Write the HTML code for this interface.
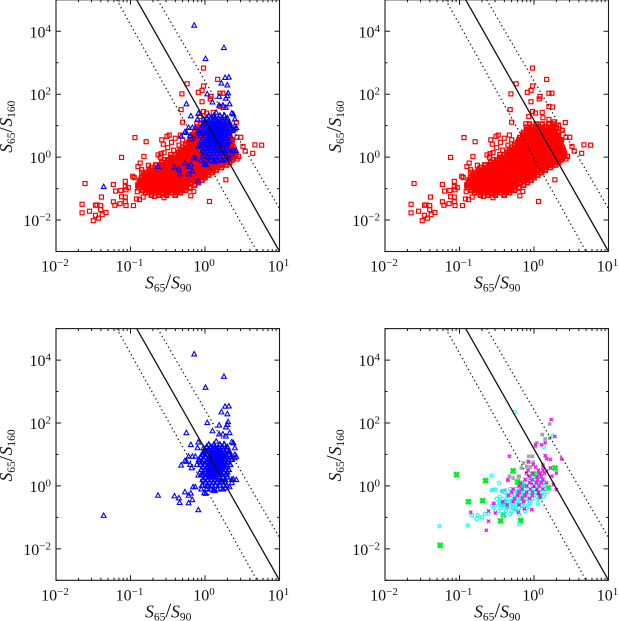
<!DOCTYPE html>
<html>
<head>
<meta charset="utf-8">
<title>S65/S160 vs S65/S90 colour-colour diagrams</title>
<style>
html,body{margin:0;padding:0;background:#fff;}
#chart{display:block;width:619px;height:621px;filter:blur(0.3px);}
text{font-family:"Liberation Serif",serif;fill:#111;}
</style>
</head>
<body>
<svg id="chart" xmlns="http://www.w3.org/2000/svg" width="619" height="621" viewBox="0 0 619 621"></svg>
<script>
/* All data values are log10(S65/S90), log10(S65/S160). */
const xTickExponents = [-2, -1, 0, 1];
const yTickExponents = [-2, 0, 2, 4];
const yDecades = [-3, -2, -1, 0, 1, 2, 3, 4, 5];
const xMinorFactors = [2, 3, 4, 5, 6, 7, 8, 9];
const solidLine = [[-0.917, 5], [1, -3]];
const upperDottedLine = [[-0.635, 5], [1, -1.64]];
const lowerDottedLine = [[-1.185, 5], [0.698, -3]];

const redOutliers = [[-1.61,-.84],[-1.65,-1.5],[-1.65,-1.77],[-1.55,-1.72],[-1.5,-2.02],[-1.47,-1.53],[-1.45,-1.52],[-1.47,-1.85],[-1.43,-1.94],[-1.4,-1.54],[-1.4,-1.67],[-1.33,-1.76],[-1.38,-1.83],[-1.39,-1.27],[-1.23,-.87],[-1.2,-1.08],[-1.13,-1.06],[-1.23,-1.42],[-1.21,-1.53],[-1.14,-1.48],[-1.06,-1.54],[-.96,-1.54],[-1.07,-1.42],[-1.07,-.77],[-1.07,-.93],[-1.12,-1.26],[-1.07,-1.27],[-1.03,-.97],[-1.06,-1.04],[-.9,-.96],[-.91,-1.1],[-1.12,-.01],[-.94,.62],[-.79,.49],[-.82,.02],[-.87,-.19],[-.9,-.3],[-.85,-.4],[-.85,-.48],[-.97,-.61],[-.95,-.65],[-.76,-.26],[-.92,-1.33],[-.88,-1.35],[-.83,-1.27],[-.63,.07],[-.59,.11],[-.58,.55],[-.51,.66],[-.56,.41],[.06,-1.41],[.28,-.72],[-.19,-1.23],[-.2,-.99],[-.15,-1.09],[-.55,-1.29],[-.68,-1.25],[-.02,2.83],[-.24,2.33],[.17,2.47],[-.31,2.01],[-.02,2.26],[-.04,2.12],[-.09,2.06],[.2,2.03],[.24,2.03],[.08,1.93],[.07,1.85],[-.04,1.76],[-.32,1.51],[-.3,1.11],[.2,1.61],[.25,1.59],[-.02,1.45],[.02,1.4],[.11,1.42],[-.07,1.29],[-.11,1.06],[.42,1.1],[.67,.39],[.76,.38],[.64,.12],[.54,.19],[.51,.34],[.48,.63],[.43,.63],[.37,.55],[.45,.02],[.43,-.06],[.41,.11],[.2,1.2],[.12,1.25],[.27,1.12],[.33,1.02],[.38,.85],[-.48,.7],[-.33,.7],[-.4,.6],[-.3,.55],[-.45,.47],[-.35,.38],[-.5,.3],[-.42,.22],[-.55,.14],[-.46,.08],[-.6,.0],[-.54,-.08]];

const redCloudRows = [
[1.05,[-.06,.03,.11,.2,.27]],
[.95,[-.1,-.03,.04,.1,.16,.23,.3]],
[.87,[-.1,-.05,0,.05,.1,.15,.2,.26]],
[.78,[-.14,-.1,-.04,.02,.07,.12,.17,.22,.28,.33]],
[.7,[-.15,-.1,-.05,0,.05,.1,.15,.2,.25,.31]],
[.62,[-.19,-.14,-.09,-.04,.01,.06,.11,.16,.21,.26,.33]],
[.55,[-.2,-.16,-.12,-.07,-.02,.03,.08,.13,.18,.23,.28,.35]],
[.47,[-.22,-.2,-.15,-.1,-.05,0,.05,.1,.15,.2,.25,.3,.36]],
[.39,[-.26,-.2,-.15,-.1,-.05,0,.05,.1,.15,.2,.25,.3,.35]],
[.31,[-.3,-.24,-.19,-.14,-.09,-.04,.01,.06,.11,.16,.21,.26,.31,.38]],
[.23,[-.33,-.27,-.22,-.17,-.12,-.07,-.02,.03,.08,.13,.18,.23,.28,.33,.39]],
[.15,[-.36,-.31,-.26,-.21,-.16,-.11,-.06,-.01,.04,.09,.14,.19,.24,.29,.34,.4]],
[.07,[-.4,-.35,-.3,-.25,-.2,-.15,-.1,-.05,0,.05,.1,.15,.2,.25,.3,.36,.41]],
[-.01,[-.46,-.41,-.35,-.3,-.25,-.2,-.15,-.1,-.05,0,.05,.1,.15,.2,.25,.3,.38]],
[-.09,[-.5,-.44,-.39,-.34,-.29,-.24,-.19,-.14,-.09,-.04,.01,.06,.11,.16,.21,.26,.31,.36]],
[-.17,[-.58,-.52,-.47,-.42,-.37,-.32,-.27,-.22,-.17,-.12,-.07,-.02,.03,.08,.13,.18,.23,.28,.33]],
[-.25,[-.66,-.6,-.56,-.51,-.46,-.41,-.36,-.31,-.26,-.21,-.16,-.11,-.06,-.01,.04,.09,.14,.19,.24,.29]],
[-.33,[-.72,-.65,-.6,-.55,-.5,-.45,-.4,-.35,-.3,-.25,-.2,-.15,-.1,-.05,0,.05,.1,.15,.22]],
[-.41,[-.75,-.69,-.64,-.59,-.54,-.49,-.44,-.39,-.34,-.29,-.24,-.19,-.14,-.09,-.04,.01,.06,.11,.15]],
[-.49,[-.78,-.72,-.67,-.62,-.57,-.52,-.47,-.42,-.37,-.32,-.27,-.22,-.17,-.12,-.07,-.02,.03,.1]],
[-.57,[-.82,-.76,-.7,-.65,-.6,-.55,-.5,-.45,-.4,-.35,-.3,-.25,-.2,-.15,-.1,-.05,0,.05]],
[-.65,[-.85,-.79,-.73,-.68,-.63,-.58,-.53,-.48,-.43,-.38,-.33,-.28,-.23,-.18,-.13,-.08,-.03,0]],
[-.73,[-.87,-.81,-.76,-.71,-.66,-.61,-.56,-.51,-.46,-.41,-.36,-.31,-.26,-.21,-.16,-.11,-.04]],
[-.81,[-.88,-.83,-.78,-.73,-.68,-.63,-.58,-.53,-.48,-.43,-.38,-.33,-.28,-.23,-.18,-.09]],
[-.89,[-.9,-.85,-.8,-.75,-.7,-.65,-.6,-.55,-.5,-.45,-.4,-.35,-.3,-.25,-.14]],
[-.97,[-.88,-.83,-.78,-.73,-.68,-.63,-.58,-.53,-.48,-.43,-.38,-.33,-.27,-.2]],
[-1.05,[-.84,-.78,-.72,-.66,-.6,-.54,-.48,-.42,-.36,-.3,-.26]],
[-1.13,[-.8,-.72,-.65,-.58,-.51,-.44,-.37,-.33]],
[-1.21,[-.72,-.62,-.52,-.4]]
];

const blueOutliers = [[-.145,4.19],[.254,3.48],[.007,3.13],[.27,2.53],[.32,2.54],[.22,2.35],[.3,2.29],[.03,2.01],[.31,2.04],[.19,1.93],[.3,1.95],[.28,1.87],[.1,1.75],[-.25,1.69],[.33,1.69],[-.19,1.31],[-.09,1.39],[.19,1.65],[.24,1.65],[.28,1.58],[.15,1.42],[.36,1.4],[.38,1.37],[.4,1.21],[-.1,1.21],[-.02,1.21],[-.22,.94],[-.17,.94],[-.27,.8],[-.25,.78],[-.13,.94],[-.32,.66],[-.2,.68],[-.18,.57],[-.11,.68],[-.07,.78],[-.02,1],[.4,1],[.4,.89],[.42,.94],[-.63,-.3],[-.41,-.32],[-.35,-.38],[-.34,-.53],[-.27,-.19],[-.22,-.3],[-.19,-.23],[-.17,-.44],[-.22,-.54],[-.09,-.76],[-1.36,-.94],[-.16,-.03],[-.13,-.03],[-.05,-.1],[-.01,-.22],[.01,-.24],[.11,-.14],[.13,-.15],[.04,-.01],[.27,-.06],[.33,-.03],[-.09,.34],[-.05,.36],[-.02,.2],[.38,.22],[.42,.2],[.36,.1]];

const blueCloudRows = [
[1.32,[.05,.12,.2,.26]],
[1.24,[.02,.08,.13,.18,.23,.3]],
[1.16,[0,.05,.09,.13,.17,.21,.25,.29]],
[1.08,[-.02,.04,.08,.11,.14,.17,.2,.23,.27,.33]],
[1.0,[-.04,.03,.07,.1,.13,.16,.19,.22,.25,.28,.32]],
[.92,[-.06,.01,.05,.08,.11,.14,.17,.2,.23,.26,.29,.35]],
[.84,[-.08,-.02,.03,.06,.09,.12,.15,.18,.21,.24,.27,.31,.36]],
[.76,[-.04,.02,.05,.08,.11,.14,.17,.2,.23,.26,.3]],
[.68,[-.06,0,.04,.07,.1,.13,.16,.19,.22,.25,.29,.34]],
[.6,[-.03,.03,.06,.09,.12,.15,.18,.21,.24,.28]],
[.52,[-.05,.01,.05,.08,.11,.14,.17,.2,.23,.27,.32]],
[.44,[.02,.05,.08,.11,.14,.17,.2,.25,.3]],
[.36,[-.03,.03,.06,.09,.12,.16,.2,.23,.29]],
[.28,[.01,.05,.08,.12,.15,.19,.24,.3]],
[.2,[-.03,.04,.08,.13,.17,.21,.27,.36]],
[.12,[.01,.06,.11,.16,.21,.27]],
[.02,[-.04,.03,.09,.14,.2,.29]],
[-.1,[.02,.08,.17,.24]]
];

const grayPoints = [[.21,1.97],[.11,1.63],[.15,1.49],[.21,1.52],[.02,1.25],[.04,1.37],[-.07,.94],[-.02,.94],[-.08,.78],[-.14,.73],[-.1,.62],[-.05,.6],[-.17,.57],[-.01,.75],[.12,.68],[-.33,.31],[-.28,.25],[-.21,.29],[-.2,.31],[-.35,.17],[-.43,-.17],[-.39,-.14],[-.23,-.17],[-.18,-.22],[-.35,-.68],[-.26,-.75],[-.12,0],[.06,.1]];

const cyanOutliers = [[-.26,2.35],[-1.27,-1.28],[-.89,-1.25],[-.57,.33],[-.2,-1.21],[-.47,.1],[-.57,-.14],[-.55,-.12],[-.52,-.11],[.25,1.6],[.13,1.24],[-.83,-.93],[-.77,-1.05],[-.76,-.93],[-.7,-.99],[-.66,-.89],[-.61,-.88],[-.43,-.16]];

const cyanCloudRows = [
[.3,[-.05,.05]],
[.2,[-.1,0,.08]],
[.1,[-.14,-.04,.04,.12]],
[0,[-.2,-.1,-.02,.06,.14]],
[-.1,[-.32,-.24,-.16,-.08,0,.08,.15]],
[-.2,[-.4,-.3,-.22,-.14,-.06,.02,.1,.17]],
[-.27,[-.36,-.26,-.18,-.1,-.02,.06,.14]],
[-.34,[-.46,-.36,-.28,-.2,-.12,-.04,.04,.12]],
[-.41,[-.5,-.42,-.34,-.26,-.18,-.1,-.02,.06]],
[-.48,[-.46,-.38,-.3,-.22,-.14,-.06]],
[-.55,[-.54,-.46,-.38,-.3,-.22,-.14,-.06,.05]],
[-.62,[-.56,-.48,-.4,-.32,-.24,-.16,-.08]],
[-.7,[-.54,-.44,-.36,-.28,-.2,-.1]],
[-.8,[-.48,-.38,-.3,-.22,-.12]],
[-.9,[-.42,-.32,-.2]]
];

const magentaOutliers = [[.23,2.11],[.28,1.57],[.15,1.37],[.02,1.31],[.1,1.31],[.37,.86],[.15,.96],[.17,.86],[.22,.84],[-.33,.94],[-.85,-.84],[-.64,-1.41],[-.61,-1.12],[-.54,-.56],[-.52,-.86],[-.61,-.8],[-.03,-.75],[-.13,-.73],[-.21,-.84],[-.35,.2],[.3,-.12],[.26,.04],[.24,.31],[.3,.41],[.17,.47],[.22,.57],[-.07,.76],[-.01,.68]];

const magentaCloudRows = [
[.6,[.02,.12]],
[.5,[-.08,.06,.12]],
[.4,[-.1,-.02,.08,.14]],
[.3,[-.06,.04,.1]],
[.2,[-.12,-.02,.05,.12]],
[.1,[-.18,-.06,.03,.1,.17]],
[0,[-.2,-.1,0,.07]],
[-.1,[-.28,-.16,-.05,.04,.12]],
[-.2,[-.3,-.2,-.1,-.02,.06]],
[-.3,[-.34,-.22,-.12,-.02,.08]],
[-.4,[-.26,-.16,-.06]],
[-.5,[-.42,-.28,-.14]],
[-.6,[-.36,-.2]]
];

const greenPoints = [[-1.04,.36],[-.65,.17],[-.88,-.5],[-.69,-.47],[-1.26,-1.89],[-.4,-.55],[-.41,-.91],[-.45,-1.11],[-.18,-1.1],[-.28,.48],[-.22,.13],[-.17,.04],[-.01,.38],[.07,.36],[.28,.57],[.19,-.06],[.08,-.33],[-.13,-.3],[-.17,-.08]];

const NS = 'http://www.w3.org/2000/svg';
const svg = document.getElementById('chart');
const X_MIN = -2, X_MAX = 1, Y_MIN = -3, Y_MAX = 5;
const AXIS = '#1a1a1a';

function mk(tag, attrs, parent) {
  const el = document.createElementNS(NS, tag);
  for (const k in attrs) el.setAttribute(k, attrs[k]);
  parent.appendChild(el);
  return el;
}
function expand(rows) {
  const out = [];
  rows.forEach(function (r) { r[1].forEach(function (x) { out.push([x, r[0]]); }); });
  return out;
}
const redCloud = expand(redCloudRows);
const blueCloud = expand(blueCloudRows);
const cyanAll = expand(cyanCloudRows).concat(cyanOutliers);
const magentaAll = expand(magentaCloudRows).concat(magentaOutliers);

function drawSquare(g, p, sx, sy, sw) {
  const r = mk('rect', {x: sx(p[0]) - 2, y: sy(p[1]) - 2, width: 4, height: 4, fill: 'none', stroke: '#ff0000', 'stroke-width': sw}, g);
  
  
}
function drawTriangle(g, p, sx, sy, sw) {
  const x = sx(p[0]), y = sy(p[1]);
  const t = mk('polygon', {points: (x - 2.4) + ',' + (y + 1.9) + ' ' + (x + 2.4) + ',' + (y + 1.9) + ' ' + x + ',' + (y - 2.5), fill: 'none', stroke: '#0000ff', 'stroke-width': sw}, g);
  
  
}
function drawGray(g, p, sx, sy) {
  const r = mk('rect', {x: sx(p[0]) - 1.8, y: sy(p[1]) - 1.8, width: 3.6, height: 3.6, fill: '#a4a4a4'}, g);
  
  
}
function drawCyan(g, p, sx, sy) {
  const c = mk('circle', {cx: sx(p[0]), cy: sy(p[1]), r: 1.6, fill: 'none', stroke: '#11ffff', 'stroke-width': 1.1}, g);
  
  
}
function drawCross(g, p, sx, sy, half, color, width, name) {
  const x = sx(p[0]), y = sy(p[1]);
  const d = 'M' + (x - half) + ' ' + (y - half) + 'L' + (x + half) + ' ' + (y + half) + 'M' + (x - half) + ' ' + (y + half) + 'L' + (x + half) + ' ' + (y - half);
  const c = mk('path', {d: d, stroke: color, 'stroke-width': width, fill: 'none'}, g);
  
  
}

function addRatioLabel(g, x, y, denom, transform, name) {
  const t = mk('text', {x: x, y: y, 'text-anchor': 'middle', 'font-size': 17.5}, g);
  if (transform) t.setAttribute('transform', transform);
  
  
  const parts = [['S', 'italic', 17.5, 0], ['65', 'normal', 11.5, 3], ['/', 'normal', 21, -3], ['S', 'italic', 17.5, 0], [denom, 'normal', 11.5, 3]];
  parts.forEach(function (p) {
    const s = mk('tspan', {'font-style': p[1], 'font-size': p[2], dy: p[3]}, t);
    s.textContent = p[0];
  });
}

function drawPanel(name, left, top, layers) {
  const w = 223.5, h = 251.7, bottom = top + h, right = left + w;
  const sx = function (v) { return left + (v - X_MIN) / (X_MAX - X_MIN) * w; };
  const sy = function (v) { return bottom - (v - Y_MIN) / (Y_MAX - Y_MIN) * h; };
  const g = mk('g', {}, svg);
  
  

  const clipId = name + '-clip';
  const defs = mk('defs', {}, g);
  const clip = mk('clipPath', {id: clipId}, defs);
  mk('rect', {x: left, y: top, width: w, height: h}, clip);

  const marks = mk('g', {'clip-path': 'url(#' + clipId + ')'}, g);
  
  
  layers.forEach(function (draw) { draw(marks, sx, sy); });

  const lines = [[solidLine, 'solid-divider-line', null, 1.3], [upperDottedLine, 'upper-dotted-line', '1.3 2.9', 1.25], [lowerDottedLine, 'lower-dotted-line', '1.3 2.9', 1.25]];
  lines.forEach(function (l) {
    const ln = mk('line', {x1: sx(l[0][0][0]), y1: sy(l[0][0][1]), x2: sx(l[0][1][0]), y2: sy(l[0][1][1]), stroke: '#111', 'stroke-width': l[3]}, marks);
    if (l[2]) ln.setAttribute('stroke-dasharray', l[2]);
    
    
  });

  const box = mk('rect', {x: left, y: top, width: w, height: h, fill: 'none', stroke: AXIS, 'stroke-width': 1.1}, g);
  
  

  let td = '';
  for (let e = X_MIN; e <= X_MAX; e++) {
    const px = sx(e);
    td += 'M' + px + ' ' + bottom + 'v-5M' + px + ' ' + top + 'v5';
    if (e < X_MAX) xMinorFactors.forEach(function (f) {
      const m = sx(e + Math.log10(f));
      td += 'M' + m + ' ' + bottom + 'v-2.5M' + m + ' ' + top + 'v2.5';
    });
  }
  yDecades.forEach(function (e) {
    const py = sy(e);
    const len = e % 2 === 0 ? 5 : 2.5;
    td += 'M' + left + ' ' + py + 'h' + len + 'M' + right + ' ' + py + 'h-' + len;
  });
  const ticks = mk('path', {d: td, stroke: AXIS, 'stroke-width': 1, fill: 'none'}, g);
  
  

  xTickExponents.forEach(function (e) {
    const t = mk('text', {x: sx(e) - 1, y: bottom + 20, 'text-anchor': 'middle', 'font-size': 16}, g);
    
    
    t.appendChild(document.createTextNode('10'));
    const s = mk('tspan', {'font-size': 11, dy: -5.5}, t);
    s.textContent = String(e).replace('-', '\u2212');
  });
  yTickExponents.forEach(function (e) {
    const t = mk('text', {x: left - 5, y: sy(e) + 6, 'text-anchor': 'end', 'font-size': 16}, g);
    
    
    t.appendChild(document.createTextNode('10'));
    const s = mk('tspan', {'font-size': 11, dy: -5.5}, t);
    s.textContent = String(e).replace('-', '\u2212');
  });

  addRatioLabel(g, (left + right) / 2 + 0.5, bottom + 37, '90', null, 'x-axis-title');
  const ty = top + h / 2 + 1, tx = left - 44;
  addRatioLabel(g, tx, ty, '160', 'rotate(-90 ' + tx + ' ' + ty + ')', 'y-axis-title');
}

const redLayer = function (g, sx, sy) {
  redCloud.forEach(function (p) { drawSquare(g, p, sx, sy, 1.7); });
  redOutliers.forEach(function (p) { drawSquare(g, p, sx, sy, 1.2); });
};
const blueLayer = function (g, sx, sy) {
  blueCloud.forEach(function (p) { drawTriangle(g, p, sx, sy, 1.35); });
  blueOutliers.forEach(function (p) { drawTriangle(g, p, sx, sy, 1.1); });
};
const grayLayer = function (g, sx, sy) { grayPoints.forEach(function (p) { drawGray(g, p, sx, sy); }); };
const greenLayer = function (g, sx, sy) { greenPoints.forEach(function (p) { drawCross(g, p, sx, sy, 2.4, '#00f020', 2.7, 'green-cross-point'); }); };
const cyanLayer = function (g, sx, sy) { cyanAll.forEach(function (p) { drawCyan(g, p, sx, sy); }); };
const magentaLayer = function (g, sx, sy) { magentaAll.forEach(function (p) { drawCross(g, p, sx, sy, 1.6, '#f010f0', 1.35, 'magenta-cross-point'); }); };

drawPanel('panel-top-left', 56, -0.2, [redLayer, blueLayer]);
drawPanel('panel-top-right', 385, -0.2, [redLayer]);
drawPanel('panel-bottom-left', 56, 328.6, [blueLayer]);
drawPanel('panel-bottom-right', 385, 328.6, [grayLayer, greenLayer, cyanLayer, magentaLayer]);
</script>
</body>
</html>
